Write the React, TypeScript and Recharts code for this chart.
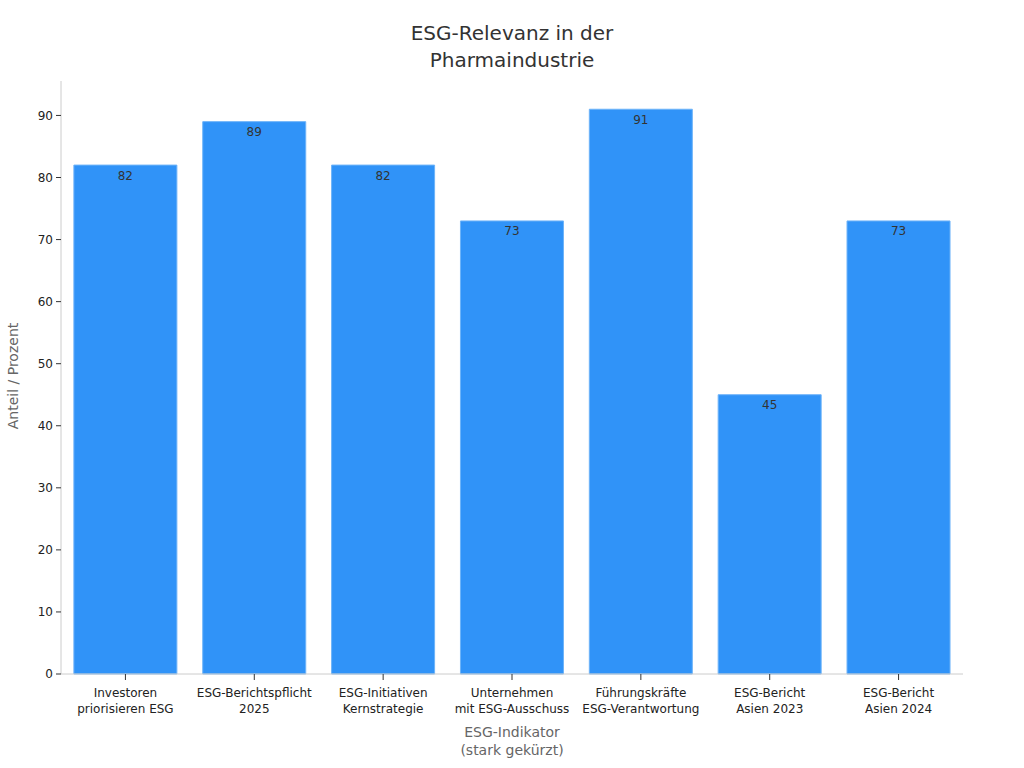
import React from 'react';
import { BarChart, Bar, XAxis, YAxis, LabelList } from 'recharts';

const categories = [
  'Investoren\npriorisieren ESG',
  'ESG-Berichtspflicht\n2025',
  'ESG-Initiativen\nKernstrategie',
  'Unternehmen\nmit ESG-Ausschuss',
  'Führungskräfte\nESG-Verantwortung',
  'ESG-Bericht\nAsien 2023',
  'ESG-Bericht\nAsien 2024',
];
const values = [82, 89, 82, 73, 91, 45, 73];
const yTicks = [0, 10, 20, 30, 40, 50, 60, 70, 80, 90];

const data = categories.map((c, i) => ({ name: c, value: values[i] }));

const FONT = '"DejaVu Sans", sans-serif';

const XTick = (props: any) => {
  const { x, y, payload } = props;
  const lines = String(payload.value).split('\n');
  return (
    <g transform={`translate(${x},${y})`}>
      <text textAnchor="middle" fill="#222" fontSize={12} fontFamily={FONT}>
        {lines.map((l: string, i: number) => (
          <tspan key={i} x={0} dy={i === 0 ? 15 : 16}>
            {l}
          </tspan>
        ))}
      </text>
    </g>
  );
};

export default function App() {
  return (
    <div style={{ position: 'absolute', left: 0, top: 0, width: 1024, height: 768, background: '#fff', fontFamily: FONT }}>
      <svg width={1024} height={768} style={{ position: 'absolute', left: 0, top: 0 }}>
        <text x={512} y={40} textAnchor="middle" fontSize={20} fill="#333" fontFamily={FONT}>ESG-Relevanz in der</text>
        <text x={512} y={67} textAnchor="middle" fontSize={20} fill="#333" fontFamily={FONT}>Pharmaindustrie</text>
        <text x={512} y={737} textAnchor="middle" fontSize={14} fill="#666" fontFamily={FONT}>ESG-Indikator</text>
        <text x={512} y={755} textAnchor="middle" fontSize={14} fill="#666" fontFamily={FONT}>(stark gekürzt)</text>
        <text x={18} y={376} textAnchor="middle" fontSize={14} fill="#666" fontFamily={FONT} transform="rotate(-90 18 376)">Anteil / Prozent</text>
      </svg>
      <div style={{ position: 'absolute', left: 0, top: 0 }}>
        <BarChart
          width={1024}
          height={768}
          data={data}
          margin={{ top: 81, right: 61, bottom: 0, left: 1 }}
          barCategoryGap="10%"
        >
          <XAxis
            dataKey="name"
            interval={0}
            tick={<XTick />}
            tickSize={6}
            axisLine={{ stroke: '#ccc' }}
            tickLine={{ stroke: '#333' }}
            height={94}
          />
          <YAxis
            width={60}
            domain={[0, 95.55]}
            ticks={yTicks}
            tickSize={5}
            tickMargin={3}
            axisLine={{ stroke: '#ccc' }}
            tickLine={{ stroke: '#333' }}
            tick={{ fill: '#222', fontSize: 12, fontFamily: FONT }}
          />
          <Bar dataKey="value" fill="#3093f8" stroke="#6db3f9" strokeWidth={1} isAnimationActive={false}>
            <LabelList dataKey="value" position="insideTop" offset={6} fill="#333" fontSize={12} fontFamily={FONT} />
          </Bar>
        </BarChart>
      </div>
    </div>
  );
}
